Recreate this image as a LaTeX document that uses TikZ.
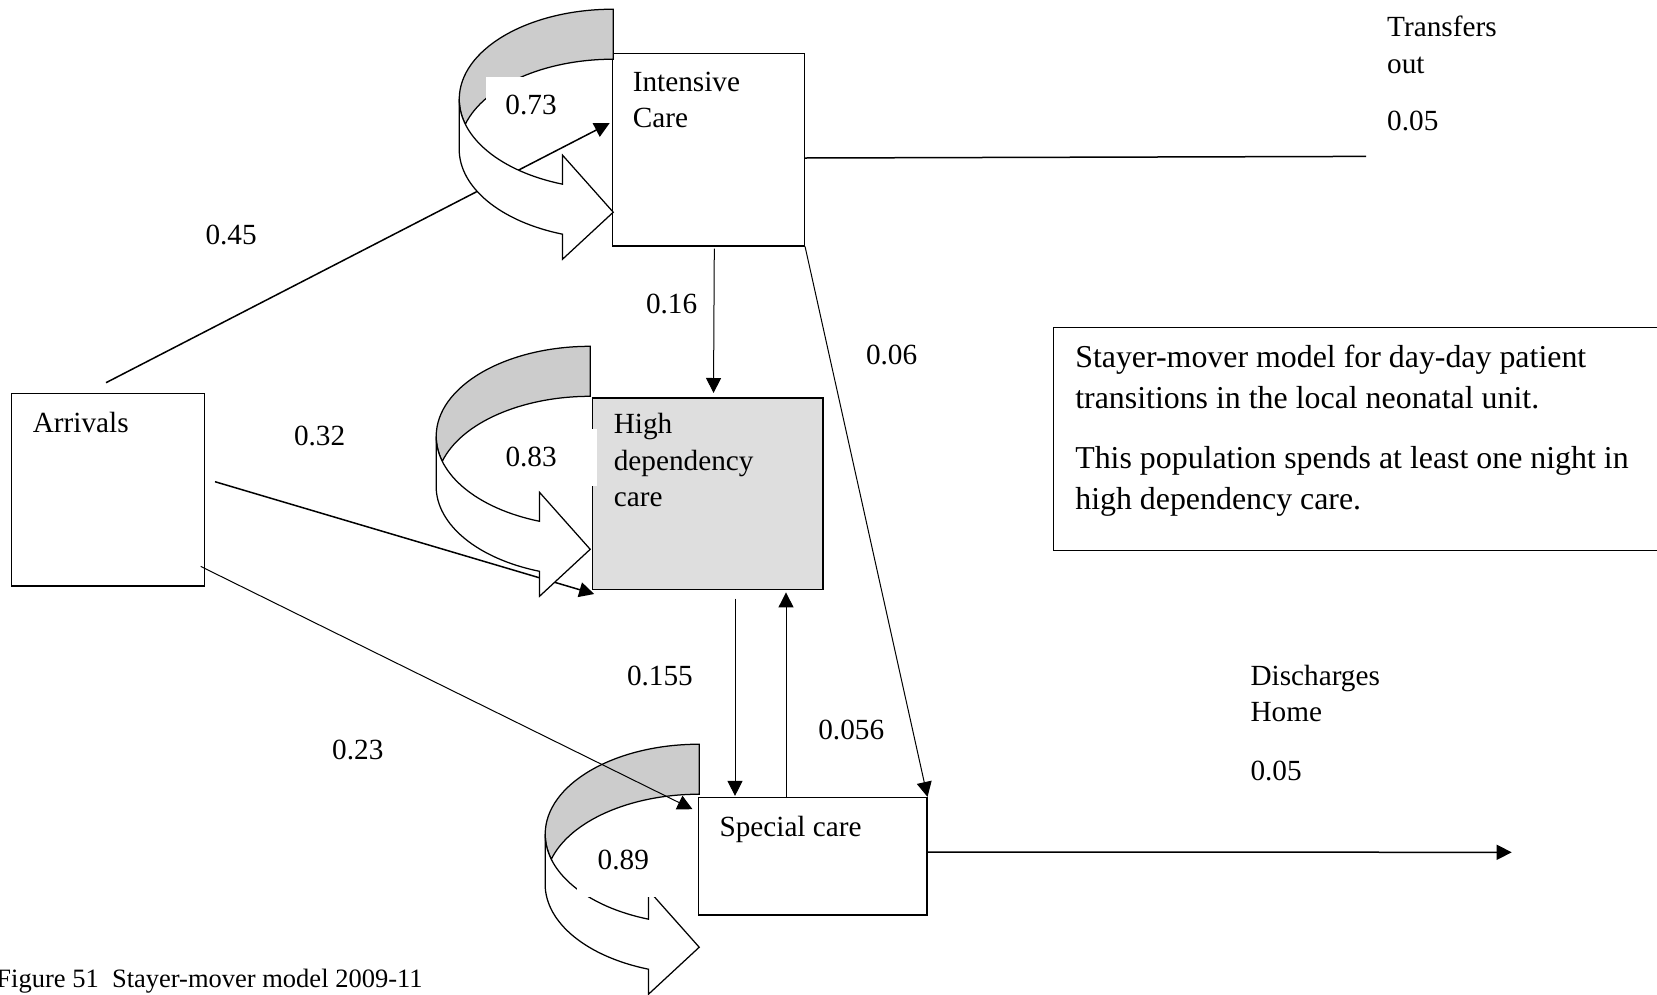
\documentclass[tikz,border=0pt]{standalone}
\usepackage{fontspec}
\setmainfont{Liberation Serif}
\usetikzlibrary{calc,arrows.meta,positioning}
\definecolor{backgray}{gray}{0.8}
\definecolor{hdcgray}{gray}{0.87}
\tikzset{flow/.style={
  x=0.4pt,y=-0.4pt,
  >={Triangle[length=6pt,width=6pt]},line join=miter
},
unit/.style={draw,line width=0.6pt,inner sep=0pt},
txt/.style={font=\fontsize{11.7}{14.6}\selectfont,inner sep=0pt,align=left,anchor=base west},
ratebg/.style={txt,fill=white,inner ysep=0pt},
uturn/.pic={
  \filldraw[line width=0.5pt,fill=backgray] (0,0)
    arc[start angle=-90,end angle=-180,x radius=154,y radius=90]
    arc[start angle=180,end angle=163.87,x radius=154,y radius=90]
    arc[start angle=196.13,end angle=270,x radius=154,y radius=90] -- cycle;
  \filldraw[line width=0.5pt,fill=white] (-154,90)
    arc[start angle=180,end angle=109.2,x radius=154,y radius=90]
    -- (-50.7,146) -- (0,203) -- (-50.7,250) -- (-50.7,225)
    arc[start angle=109.2,end angle=180,x radius=154,y radius=90] -- cycle;
}}

\begin{document}
\begin{tikzpicture}[flow]
  \useasboundingbox (0,0) rectangle (1657,994);
  \node[unit,minimum width=76.8pt,minimum height=77pt] (ic) at (708.3,149.5) {};
  \node[unit,fill=hdcgray,minimum width=92.2pt,minimum height=76.6pt] (hdc) at (707.5,493.5) {};
  \node[unit,minimum width=91.4pt,minimum height=47pt] (sc) at (812.5,856.4) {};
  \node[unit,minimum width=77pt,minimum height=77pt] (arr) at (108,489.7) {};
  \coordinate (tout) at (1366,156.4);
  \coordinate (dhome) at (1511.7,852.3);
  % flows between the units
  \draw[line width=0.6pt,->] ($(arr.north)+(-2,-10)$) -- ($(ic.north west)+(-2,70.7)$);
  \draw[line width=0.6pt] ($(ic.east)+(0,8.5)$) -- (tout);
  \draw[thin,->] ($(ic.south)+(6,2)$) -- ($(hdc.north)+(6,-4)$);
  \draw[thin,->] (ic.south east) -- (sc.north east);
  \draw[line width=0.6pt,->] ($(arr.east)+(10,-8)$) -- ($(hdc.south west)+(2.7,4)$);
  \draw[thin,->] ($(hdc.south)+(27.5,8.7)$) -- ($(sc.north)+(-77.5,-1)$);
  \draw[thin,->] ($(sc.north)+(-26.5,1.3)$) -- ($(hdc.south)+(78.5,2.4)$);
  \draw[line width=0.6pt,->] ($(sc.east)+(0,-4.4)$) -- (dhome);
  % stayers
  \pic at ($(ic.north west)+(1.7,-43.3)$) {uturn};
  \pic at ($(hdc.north west)+(-1.3,-50.7)$) {uturn};
  \pic at ($(sc.north west)+(1.7,-52.7)$) {uturn};
  \draw[thin,->] ($(arr.south east)+(-4.3,-20.3)$) -- ($(sc.north west)+(-5,12.3)$);
  % rates
  \node[ratebg,inner xsep=7.7pt,text height=14.7pt,text depth=6.4pt] (s1) at (485.7,114) {0.73};
  \node[ratebg,inner xsep=4pt,text width=32.7pt,text height=14.8pt,text depth=8pt] (s2) at (495,466) {0.83};
  \node[ratebg,inner xsep=8.2pt,text height=8.5pt,text depth=11.1pt] (s3) at (576.7,869.3) {0.89};
  \node[txt] (m1) at (205,244.5) {0.45};
  \node[txt] (m2) at (645.5,313.2) {0.16};
  \node[txt] (m3) at (865.5,364) {0.06};
  \node[txt] (m4) at (293.5,445.3) {0.32};
  \node[txt] (m5) at (626.5,685.2) {0.155};
  \node[txt] (m6) at (817.8,739.1) {0.056};
  \node[txt] (m7) at (331.7,759.2) {0.23};
  % names (base = last line)
  \node[txt] (icname) at (632.3,127.7) {Intensive\\Care};
  \node[txt] (hdcname) at (613.3,506.7) {High\\dependency\\care};
  \node[txt] (scname) at (719,836) {Special care};
  \node[txt] (arrname) at (32.3,432.3) {Arrivals};
  \node[txt] (toutname) at (1386.7,73.3) {Transfers\\out};
  \node[txt] (toutrate) at (1386.7,130.7) {0.05};
  \node[txt] (dhomename) at (1250,721.7) {Discharges\\Home};
  \node[txt] (dhomerate) at (1250,780) {0.05};
  \node[txt,font=\fontsize{12.75}{16.4}\selectfont] (note) at (1074.8,509.5)
    {Stayer-mover model for day-day patient\\transitions in the local neonatal unit.\\[7.8pt]
     This population spends at least one night in\\high dependency care.};
  \draw[line width=0.6pt] (1657,327.6) -| (1053.6,550.6) -- (1657,550.6);
  \node[txt,font=\fontsize{10.6}{13}\selectfont] (caption) at (-4,987) {Figure 51~~Stayer-mover model 2009-11};
\end{tikzpicture}
\end{document}
